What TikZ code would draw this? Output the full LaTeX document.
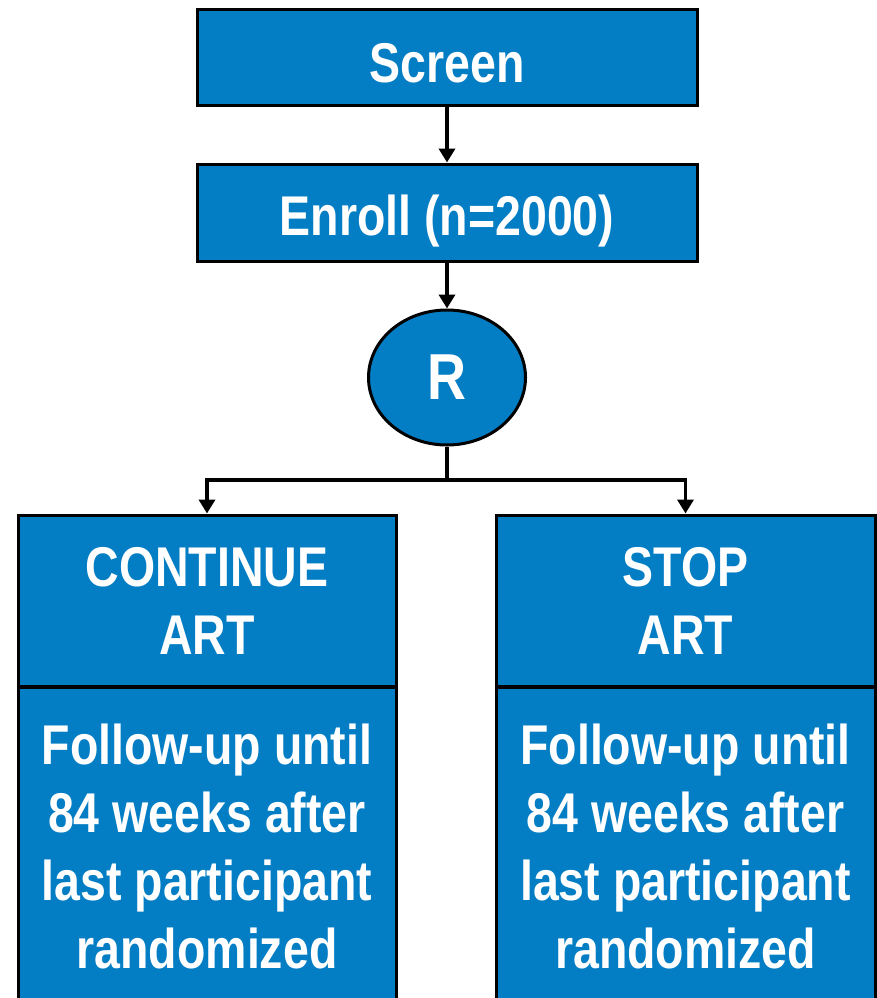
\documentclass[tikz,border=0pt]{standalone}
\usepackage{fontspec}
\newfontfamily\lblfont[FakeStretch=0.83]{Liberation Sans}
\usetikzlibrary{arrows.meta,shapes.geometric}
\definecolor{boxblue}{RGB}{3,125,195}
\tikzset{
  boxed/.style={draw=black, line width=3pt, fill=boxblue, text=white, inner sep=0pt, align=center,
    font=\lblfont\bfseries\fontsize{56}{68}\selectfont},
  conn/.style={draw=black, line width=3.5pt},
  arr/.style={conn, -{Triangle[width=16pt,length=14pt]}}
}
\begin{document}
\begin{tikzpicture}[x=1pt,y=-1pt]
\useasboundingbox (0,0) rectangle (877,998);
\clip (0,0) rectangle (877,998);
\node[boxed, text height=50pt, text depth=0pt, minimum width=500, minimum height=95] (screen) at (447,57.5) {Screen};
\node[boxed, text height=46pt, text depth=0pt, minimum width=500, minimum height=97] (enroll) at (447,212.5) {Enroll (n=2000)};
\node[boxed, ellipse, minimum width=157, minimum height=135, font=\lblfont\bfseries\fontsize{65}{70}\selectfont] (R) at (447,377.5) {R};
\node[boxed, minimum width=378, minimum height=171] (conthead) at (207,600.5) {CONTINUE\\ART};
\node[boxed, minimum width=379, minimum height=171] (stophead) at (685.5,600.5) {STOP\\ART};
\node[boxed, anchor=north, minimum width=378, minimum height=318] (contbody) at (207,686) {Follow-up until\\84 weeks after\\last participant\\randomized};
\node[boxed, anchor=north, minimum width=379, minimum height=318] (stopbody) at (685.5,686) {Follow-up until\\84 weeks after\\last participant\\randomized};
\coordinate (split) at (447,480);
\draw[arr] (screen) -- (enroll);
\draw[arr] (enroll) -- (R);
\draw[conn] (R) -- (split);
\draw[arr] (split) -| (conthead.north);
\draw[arr] (split) -| (stophead.north);
\end{tikzpicture}
\end{document}
